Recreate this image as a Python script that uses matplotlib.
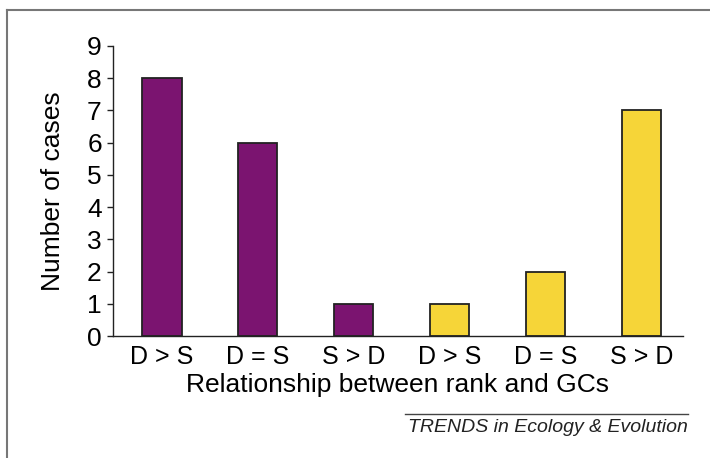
import matplotlib.pyplot as plt
from matplotlib.lines import Line2D

plt.rcParams['font.family'] = ['Liberation Sans', 'DejaVu Sans']

# data
categories = ['D > S', 'D = S', 'S > D', 'D > S', 'D = S', 'S > D']
cases = [8, 6, 1, 1, 2, 7]
bar_colors = ['#7b1470'] * 3 + ['#f6d538'] * 3

fig = plt.figure(figsize=(7.1, 4.58), dpi=100)
ax = fig.add_axes([0.159, 0.266, 0.803, 0.634])

x = range(len(categories))
ax.bar(x, cases, width=0.41, color=bar_colors, edgecolor='#222222', linewidth=1.3)

ax.set_xlim(-0.51, 5.43)
ax.set_ylim(0, 9)
ax.set_yticks(range(10))
ax.set_xticks(list(x))
ax.set_xticklabels(categories)

ax.spines['top'].set_visible(False)
ax.spines['right'].set_visible(False)
for s in ['left', 'bottom']:
    ax.spines[s].set_color('#222222')
    ax.spines[s].set_linewidth(1.0)

ax.tick_params(axis='y', length=4, width=1.0, labelsize=19, pad=4, colors='#222222')
ax.tick_params(axis='y', labelcolor='black')
ax.tick_params(axis='x', length=0, labelsize=18, pad=6)

ax.set_ylabel('Number of cases', fontsize=19, labelpad=16)
ax.set_xlabel('Relationship between rank and GCs', fontsize=19, labelpad=3)

# source line and text
fig.add_artist(Line2D([405 / 710, 688 / 710], [1 - 414 / 458, 1 - 414 / 458],
                      color='#444444', linewidth=1.0))
fig.text(688 / 710, 1 - 427 / 458, 'TRENDS in Ecology & Evolution', fontsize=14,
         style='italic', ha='right', va='center', color='#222222')

# figure frame (top and left)
fig.add_artist(Line2D([7 / 710, 1.0], [1 - 10 / 458, 1 - 10 / 458], color='#777777', linewidth=1.5))
fig.add_artist(Line2D([7 / 710, 7 / 710], [0, 1 - 10 / 458], color='#777777', linewidth=1.5))

fig.savefig('out.png', dpi=100)
